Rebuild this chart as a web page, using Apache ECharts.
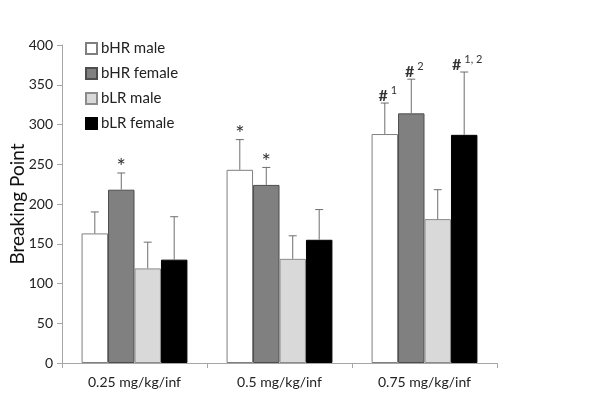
<!DOCTYPE html>
<html><head><meta charset="utf-8">
<script src="https://cdn.jsdelivr.net/npm/echarts@6/dist/echarts.min.js"></script>
<style>html,body{margin:0;padding:0;background:#fff}#c{width:600px;height:408px}</style>
</head><body><div id="c"></div>
<script>
const categories = ['0.25 mg/kg/inf', '0.5 mg/kg/inf', '0.75 mg/kg/inf'];
const seriesNames = ['bHR male', 'bHR female', 'bLR male', 'bLR female'];
const bHRmale = [163, 243, 288];
const bHRfemale = [218, 224, 314];
const bLRmale = [119, 131, 181];
const bLRfemale = [130, 155, 287];
const errBHRmale = [27, 38, 39];
const errBHRfemale = [21, 22, 43];
const errBLRmale = [33, 29, 37];
const errBLRfemale = [54, 38, 79];
const annBHRmale = ['', '*', '#|1'];
const annBHRfemale = ['*', '*', '#|2'];
const annBLRmale = ['', '', ''];
const annBLRfemale = ['', '', '#|1, 2'];
const yTicks = [0, 50, 100, 150, 200, 250, 300, 350, 400];

const values = [bHRmale, bHRfemale, bLRmale, bLRfemale];
const errs = [errBHRmale, errBHRfemale, errBLRmale, errBLRfemale];
const anns = [annBHRmale, annBHRfemale, annBLRmale, annBLRfemale];
const fills = ['#ffffff', '#808080', '#d9d9d9', '#000000'];
const borders = ['#7f7f7f', '#4d4d4d', '#8c8c8c', '#000000'];
const gapPct = 0.27;
const FONT = 'Lato, "Open Sans", sans-serif';

const errData = [];
const errAnn = [];
values.forEach((arr, si) => arr.forEach((v, ci) => {
  errData.push([ci, v, errs[si][ci], si]);
  errAnn.push(anns[si][ci]);
}));

const chart = echarts.init(document.getElementById('c'));
chart.setOption({
  animation: false,
  textStyle: {fontFamily: FONT},
  grid: {left: 62, top: 45, right: 103, bottom: 45, containLabel: false, outerBoundsMode: 'none'},
  legend: {
    left: 80, top: 36, orient: 'vertical', itemGap: 10,
    itemWidth: 11, itemHeight: 11, icon: 'rect',
    textStyle: {fontFamily: FONT, fontSize: 15, color: '#222', padding: [0, 0, 0, -1]},
    data: seriesNames
  },
  xAxis: {
    type: 'category', data: categories,
    axisLine: {lineStyle: {color: '#a6a6a6'}},
    axisTick: {show: true, length: 5, lineStyle: {color: '#a6a6a6'}},
    axisLabel: {fontFamily: FONT, fontSize: 14, color: '#222', margin: 12}
  },
  yAxis: {
    type: 'value', min: yTicks[0], max: yTicks[yTicks.length - 1], interval: 50,
    name: 'Breaking Point', nameLocation: 'middle', nameGap: 35, nameMoveOverlap: false,
    nameTextStyle: {fontFamily: FONT, fontSize: 19, color: '#111'},
    axisLine: {show: true, lineStyle: {color: '#a6a6a6'}},
    axisTick: {show: true, length: 5, lineStyle: {color: '#a6a6a6'}},
    splitLine: {show: false},
    axisLabel: {fontFamily: FONT, fontSize: 14, color: '#222', margin: 9}
  },
  series: values.map((arr, si) => ({
    type: 'bar', name: seriesNames[si], data: arr,
    barGap: '0%', barCategoryGap: (gapPct * 100) + '%',
    itemStyle: {color: fills[si], borderColor: borders[si], borderWidth: 1}
  })).concat([{
    type: 'custom', name: 'err', data: errData, z: 5,
    encode: {x: 0, y: 1},
    renderItem: function (params, api) {
      const ci = api.value(0), v = api.value(1), e = api.value(2), si = api.value(3);
      const catW = api.size([1, 0])[0];
      const bw = catW * (1 - gapPct) / 4;
      const base = api.coord([ci, v]);
      const top = api.coord([ci, v + e]);
      const cx = base[0] + (si - 1.5) * bw;
      const children = [
        {type: 'line', shape: {x1: cx, y1: base[1], x2: cx, y2: top[1]}, style: {stroke: '#6e6e6e', lineWidth: 1}},
        {type: 'line', shape: {x1: cx - 4, y1: top[1], x2: cx + 4, y2: top[1]}, style: {stroke: '#6e6e6e', lineWidth: 1}}
      ];
      const a = errAnn[params.dataIndex];
      if (a) {
        let text, y;
        if (a.indexOf('|') >= 0) {
          const parts = a.split('|');
          text = '{m|' + parts[0] + '}{s|' + parts[1] + '}';
          y = top[1] + 3;
        } else {
          text = '{a|' + a + '}';
          y = top[1] - 3;
        }
        children.push({
          type: 'text',
          style: {
            text: text, x: cx + (a.indexOf('|') >= 0 ? 3 : 0), y: y, align: 'center', verticalAlign: 'bottom',
            rich: {
              a: {fontFamily: FONT, fontSize: 22, fill: '#333', padding: [0, 0, -8, 0]},
              m: {fontFamily: FONT, fontSize: 16, fontWeight: 'bold', fill: '#333'},
              s: {fontFamily: FONT, fontSize: 11, fill: '#333', padding: [0, 0, 10, 3]}
            }
          }
        });
      }
      return {type: 'group', children: children};
    }
  }])
});
</script></body></html>
